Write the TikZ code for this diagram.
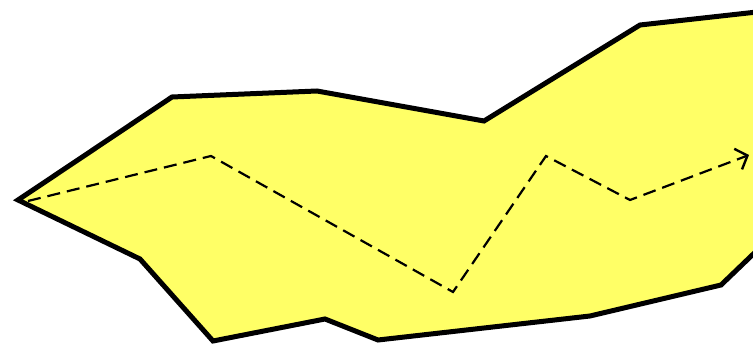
\documentclass[tikz,border=0pt]{standalone}
\usetikzlibrary{arrows.meta}
\definecolor{fillyellow}{RGB}{255,255,102}
\tikzset{
  region/.style={draw=black, fill=fillyellow, line width=5pt, line join=miter},
  route/.style={draw=black, line width=2.2pt, dash pattern=on 13pt off 7pt, -{Straight Barb[length=10pt,width=22pt,line width=2.4pt]}}
}
\begin{document}
\begin{tikzpicture}[x=1pt,y=-1pt]
\useasboundingbox (0,0) rectangle (753,344);
\clip (0,0) rectangle (753,344);
\path[region] (18,200) -- (172,97) -- (317,91) -- (484,121) -- (640,25) -- (820,5) -- (820,190) -- (721,285) -- (590,316) -- (378,340) -- (325,319) -- (213,341) -- (140,259) -- cycle;
\coordinate (p0) at (28,201);
\coordinate (p1) at (211,156);
\coordinate (p2) at (453,292);
\coordinate (p3) at (546,156);
\coordinate (p4) at (630,200);
\coordinate (p5) at (749,155);
\draw[route] (p0) -- (p1) -- (p2) -- (p3) -- (p4) -- (p5);
\end{tikzpicture}
\end{document}
